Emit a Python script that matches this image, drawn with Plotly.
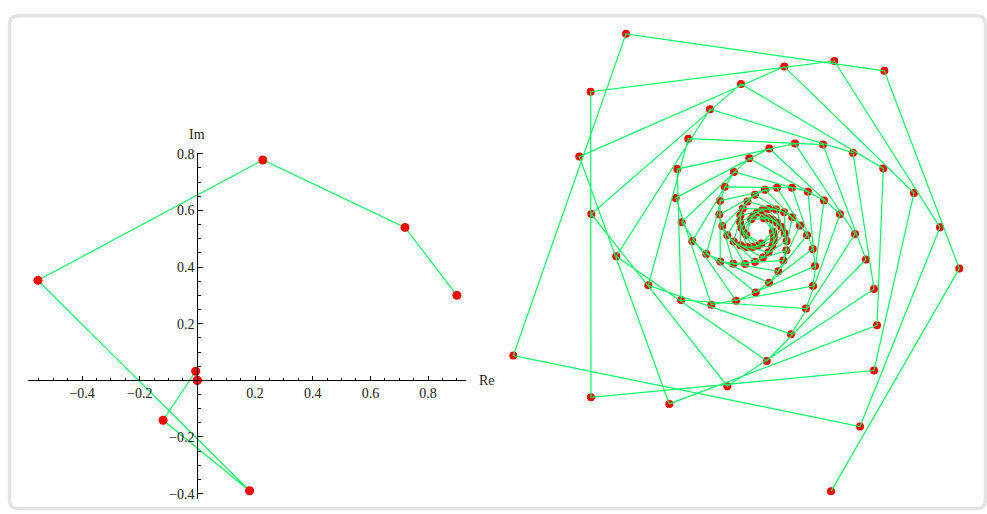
import plotly.graph_objects as go

# ---------------- Left panel: orbit in the complex plane ----------------
left_re = [0.90, 0.72, 0.227, -0.553, 0.181, -0.119, -0.006, -0.001, 0.0]
left_im = [0.30, 0.54, 0.778, 0.353, -0.390, -0.141, 0.032, 0.000, 0.0]

x_ticks = [-0.4, -0.2, 0.2, 0.4, 0.6, 0.8]
y_ticks = [-0.4, -0.2, 0.2, 0.4, 0.6, 0.8]

# ---------------- Right panel: spiral orbit (values read per spiral arm) ----------------
# Each arm lists successive visits (outer -> inner); consecutive orbit points
# cycle through the arms in the order arm5, arm1, arm2, arm3, arm4.
arm5 = [(72, -266), (101, -200), (115, -143), (118, -97), (115, -60), (107, -30),
        (96, -4), (81, 16), (65, 30), (49, 39), (33, 43), (18, 43), (6, 41),
        (-4.1, 35.8), (-11.5, 29.1), (-16.2, 21.9), (-18.6, 14.8), (-18.9, 8.2),
        (-17.7, 2.6), (-15.5, -1.8), (-12.6, -5)]
arm1 = [(200.3, -39.3), (181, 2.7), (155, 37.7), (124.3, 62.7), (94, 78.7), (64, 87),
        (36, 88), (10.3, 83), (-9.7, 73), (-25, 59), (-34.3, 44), (-39, 29.7),
        (-39.7, 15.7), (-36.7, 4), (-31.7, -5.3), (-25.3, -11.8), (-18.6, -15.6),
        (-12.1, -17.3), (-6.3, -17.3), (-1.4, -15.9), (2.4, -13.7)]
arm2 = [(125.3, 162), (75.3, 172), (25.3, 166.3), (-18, 148.7), (-49, 123), (-70.7, 93),
        (-81.7, 62), (-83.3, 32.7), (-77.3, 8), (-66.7, -11.3), (-52.7, -24.3),
        (-38.7, -32), (-25.7, -34.3), (-14, -34.6), (-4, -32.3), (3.9, -28),
        (9.6, -22.7), (13.2, -16.9), (14.9, -11.2), (15, -6.1), (14, -1.7)]
arm3 = [(-133, 199.7), (-168.3, 140.7), (-179.7, 74.7), (-167.7, 16.3), (-142.7, -26.7),
        (-110.7, -56.3), (-78, -71.3), (-47.7, -76), (-23, -72), (-3.3, -63.7),
        (10, -53.7), (19.3, -42), (24.3, -31), (27.4, -20.6), (27.6, -11.2),
        (25.7, -3.2), (22.4, 3.1), (18.1, 7.7), (13.5, 10.5), (9, 11.9), (4.9, 12)]
arm4 = [(-245.7, -127.7), (-168, -170.3), (-89.7, -177), (-31.7, -159), (7.7, -133.3),
        (32, -106), (47, -80), (54, -57), (56, -36.7), (53.7, -19.3), (48, -5.3),
        (41, 4.7), (33.3, 13), (25.1, 18.2), (17, 21), (9.6, 21.5), (3.2, 20.2),
        (-1.9, 17.7), (-5.5, 14.5), (-7.9, 10.9)]

arms = [arm5, arm1, arm2, arm3, arm4]
orbit = []
for k in range(max(len(a) for a in arms)):
    for a in arms:
        if k < len(a):
            orbit.append(a[k])
right_re = [p[0] for p in orbit]
right_im = [p[1] for p in orbit]

GREEN = "#00FF66"
RED = "#FF0000"
W, H = 987, 514

fig = go.Figure()

# left panel
fig.add_trace(go.Scatter(x=left_re, y=left_im, mode="lines+markers",
                         line=dict(color=GREEN, width=1.2),
                         marker=dict(color=RED, size=9),
                         xaxis="x", yaxis="y", hoverinfo="skip", showlegend=False))

# right panel: points first, lines over them
fig.add_trace(go.Scatter(x=right_re, y=right_im, mode="markers",
                         marker=dict(color=RED, size=8),
                         xaxis="x2", yaxis="y2", hoverinfo="skip", showlegend=False))
fig.add_trace(go.Scatter(x=right_re, y=right_im, mode="lines",
                         line=dict(color=GREEN, width=1.2),
                         xaxis="x2", yaxis="y2", hoverinfo="skip", showlegend=False))

# pixel geometry of the left panel
lx0, lx1 = 28.3, 466.0      # px
ly_top, ly_bot = 149.3, 501.7
ppu = 288.3
orig_x, orig_y = 197.4, 381.0
xr = [(lx0 - orig_x) / ppu, (lx1 - orig_x) / ppu]
yr = [(orig_y - ly_bot) / ppu, (orig_y - ly_top) / ppu]

tick_font = dict(family="Liberation Serif, Times New Roman, serif", size=14, color="#222222")

fig.update_layout(
    width=W, height=H,
    margin=dict(l=0, r=0, t=0, b=0),
    paper_bgcolor="white", plot_bgcolor="rgba(0,0,0,0)",
    xaxis=dict(domain=[lx0 / W, lx1 / W], range=xr, anchor="free",
               position=(H - orig_y) / H,
               tickmode="array", tickvals=x_ticks,
               ticktext=[f"{v:.1f}".replace("-", "\u2212") for v in x_ticks],
               ticks="inside", ticklen=4, tickwidth=1, tickcolor="black",
               minor=dict(tickmode="linear", tick0=0, dtick=0.05, ticks="inside",
                          ticklen=2.5, tickwidth=1, tickcolor="black"),
               showline=True, linecolor="black", linewidth=1,
               showgrid=False, zeroline=False, tickfont=tick_font),
    yaxis=dict(domain=[(H - ly_bot) / H, (H - ly_top) / H], range=yr, anchor="free",
               position=orig_x / W,
               tickmode="array", tickvals=y_ticks,
               ticktext=[f"{v:.1f}".replace("-", "\u2212") for v in y_ticks],
               ticks="inside", ticklen=5, tickwidth=1, tickcolor="black",
               minor=dict(tickmode="linear", tick0=0, dtick=0.05, ticks="inside",
                          ticklen=3, tickwidth=1, tickcolor="black"),
               showline=True, linecolor="black", linewidth=1,
               showgrid=False, zeroline=False, tickfont=tick_font),
    xaxis2=dict(domain=[505 / W, 970 / W], range=[-254, 211], visible=False,
                anchor="y2"),
    yaxis2=dict(domain=[(H - 502) / H, (H - 20) / H], range=[-274, 208], visible=False,
                anchor="x2"),
)

fig.add_annotation(x=0, y=yr[1], xref="x", yref="y", text="Im", showarrow=False,
                   yanchor="bottom", yshift=9, font=tick_font)
fig.add_annotation(x=xr[1], y=0, xref="x", yref="y", text="Re", showarrow=False,
                   xanchor="left", xshift=11, font=tick_font)

# rounded light-grey frame
x1, x2 = 9.5 / W, 985.5 / W
yt, yb = 1 - 10 / H, 1 - 511.5 / H
rx, ry = 9 / W, 9 / H
path = (f"M {x1+rx},{yt} L {x2-rx},{yt} Q {x2},{yt} {x2},{yt-ry} "
        f"L {x2},{yb+ry} Q {x2},{yb} {x2-rx},{yb} L {x1+rx},{yb} "
        f"Q {x1},{yb} {x1},{yb+ry} L {x1},{yt-ry} Q {x1},{yt} {x1+rx},{yt} Z")
fig.add_shape(type="path", path=path, xref="paper", yref="paper",
              line=dict(color="#E4E4E4", width=3.5), layer="below")

fig.write_html("out.html", config={"displayModeBar": False},
               post_script="document.body.style.margin='0';document.body.style.overflow='hidden';")
